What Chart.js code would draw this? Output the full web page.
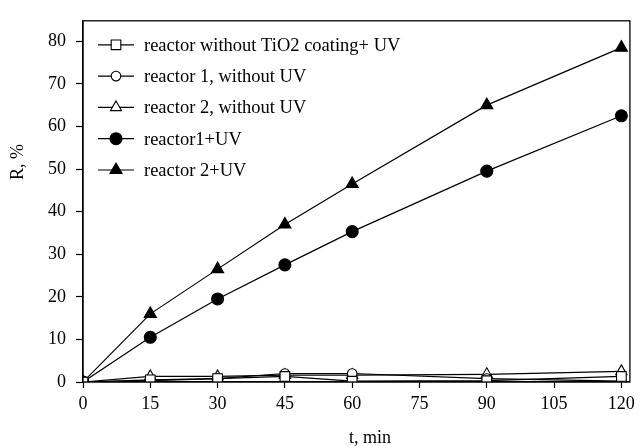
<!DOCTYPE html>
<html>
<head>
<meta charset="utf-8">
<script src="https://cdn.jsdelivr.net/npm/chart.js@4/dist/chart.umd.min.js"></script>
<style>
  html, body { margin: 0; padding: 0; background: #fff; }
  #wrap { width: 640px; height: 446px; }
</style>
</head>
<body>
<div id="wrap"><canvas id="c" width="640" height="446"></canvas></div>
<script>
// Sampling times, min
const times = [0, 15, 30, 45, 60, 90, 120];
const xTicks = [0, 15, 30, 45, 60, 75, 90, 105, 120];
const yTicks = [0, 10, 20, 30, 40, 50, 60, 70, 80];

// Removal R, %
const noCoatingUV = [0, 0.5, 0.8, 1.3, 0.2, 0.3, 1.3];
const reactor1NoUV = [0, 0.3, 0.8, 2.0, 2.0, 0.8, 0.2];
const reactor2NoUV = [0, 1.3, 1.3, 1.6, 1.6, 1.8, 2.5];
const reactor1UV = [0, 10.5, 19.5, 27.5, 35.3, 49.5, 62.5];
const reactor2UV = [0, 16, 26.5, 37, 46.5, 65, 78.5];

const seriesLabels = [
  'reactor without TiO2 coating+ UV',
  'reactor 1, without UV',
  'reactor 2, without UV',
  'reactor1+UV',
  'reactor 2+UV'
];
const seriesValues = [noCoatingUV, reactor1NoUV, reactor2NoUV, reactor1UV, reactor2UV];

const FONT = '"Liberation Serif", "Times New Roman", serif';
const markers = [
  { pointStyle: 'rect', radius: 6.8, fill: '#fff' },
  { pointStyle: 'circle', radius: 4.8, fill: '#fff' },
  { pointStyle: 'triangle', radius: 6.5, fill: '#fff' },
  { pointStyle: 'circle', radius: 6, fill: '#000' },
  { pointStyle: 'triangle', radius: 7, fill: '#000' }
];

const datasets = seriesValues.map((vals, i) => ({
  label: seriesLabels[i],
  data: vals.map((v, k) => ({ x: times[k], y: v })),
  borderColor: '#000',
  borderWidth: 1.2,
  backgroundColor: markers[i].fill,
  pointStyle: markers[i].pointStyle,
  pointRadius: markers[i].radius,
  pointHoverRadius: markers[i].radius,
  pointBackgroundColor: markers[i].fill,
  pointBorderColor: '#000',
  pointBorderWidth: 1.1,
  tension: 0
}));

// Frame around the plot, axis titles and the legend inside the plot
const decorations = {
  id: 'decorations',
  afterDatasetsDraw(chart) {
    const { ctx, chartArea: a } = chart;
    ctx.save();
    ctx.strokeStyle = '#000';
    ctx.lineWidth = 1.3;
    ctx.strokeRect(a.left, a.top, a.right - a.left, a.bottom - a.top);

    // legend
    ctx.font = '18.5px ' + FONT;
    ctx.textBaseline = 'middle';
    chart.data.datasets.forEach((ds, i) => {
      const y = a.top + 24 + i * 31.3;
      const x0 = a.left + 15;
      ctx.strokeStyle = '#000';
      ctx.lineWidth = 1.2;
      ctx.beginPath();
      ctx.moveTo(x0, y);
      ctx.lineTo(x0 + 36, y);
      ctx.stroke();
      ctx.fillStyle = markers[i].fill;
      ctx.lineWidth = 1.1;
      Chart.helpers.drawPoint(ctx, {
        pointStyle: markers[i].pointStyle,
        radius: markers[i].radius,
        rotation: 0,
        borderWidth: 1.1
      }, x0 + 18, y);
      ctx.fillStyle = '#000';
      ctx.textAlign = 'left';
      ctx.fillText(ds.label, x0 + 46, y + 1);
    });

    // axis titles
    ctx.font = '18px ' + FONT;
    ctx.fillStyle = '#000';
    ctx.textAlign = 'center';
    ctx.textBaseline = 'middle';
    ctx.fillText('t, min', a.left + 287, 438);
    ctx.translate(18, 162);
    ctx.rotate(-Math.PI / 2);
    ctx.fillText('R, %', 0, 0);
    ctx.restore();
  }
};

new Chart(document.getElementById('c'), {
  type: 'line',
  data: { datasets },
  options: {
    responsive: false,
    animation: false,
    layout: { padding: { top: 13, right: 6, left: 0, bottom: 0 } },
    plugins: { legend: { display: false }, tooltip: { enabled: false } },
    scales: {
      x: {
        type: 'linear',
        min: 0,
        max: 121.9,
        afterBuildTicks: s => { s.ticks = xTicks.map(v => ({ value: v })); },
        afterFit: s => { s.height = 64; },
        grid: { drawOnChartArea: false, tickLength: 6, tickColor: '#000', tickWidth: 1.2 },
        border: { display: true, color: '#000', width: 1.3 },
        ticks: { color: '#000', padding: 5, maxRotation: 0, font: { family: FONT, size: 18 } }
      },
      y: {
        min: 0,
        max: 84.8,
        afterBuildTicks: s => { s.ticks = yTicks.map(v => ({ value: v })); },
        afterFit: s => { s.width = 83; },
        grid: { drawOnChartArea: false, tickLength: 7, tickColor: '#000', tickWidth: 1.2 },
        border: { display: true, color: '#000', width: 1.3 },
        ticks: { color: '#000', padding: 10, font: { family: FONT, size: 18 } }
      }
    }
  },
  plugins: [decorations]
});
</script>
</body>
</html>
